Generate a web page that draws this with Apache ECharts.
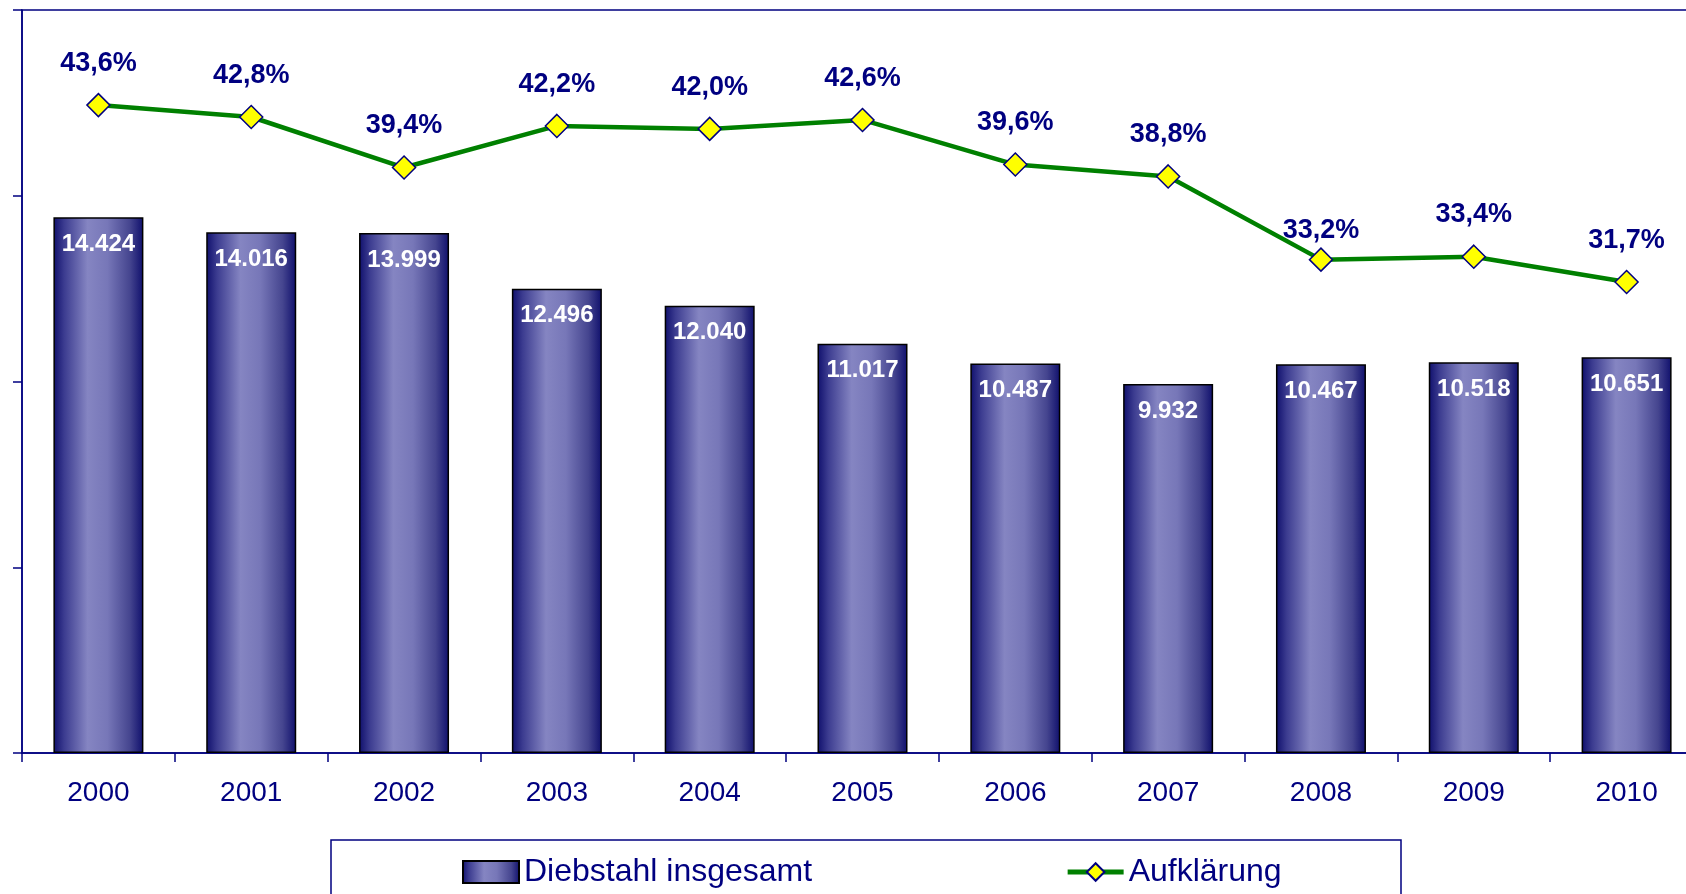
<!DOCTYPE html>
<html>
<head>
<meta charset="utf-8">
<script src="https://cdn.jsdelivr.net/npm/echarts@6/dist/echarts.min.js"></script>
<style>
  html, body { margin: 0; padding: 0; background: #fff; }
  #chart { width: 1686px; height: 894px; }
</style>
</head>
<body>
<div id="chart"></div>
<script>
// data
const years = ["2000", "2001", "2002", "2003", "2004", "2005", "2006", "2007", "2008", "2009", "2010"];
const diebstahl = [14424, 14016, 13999, 12496, 12040, 11017, 10487, 9932, 10467, 10518, 10651];
const aufklaerung = [43.6, 42.8, 39.4, 42.2, 42.0, 42.6, 39.6, 38.8, 33.2, 33.4, 31.7];

const navy = "#000080";
const font = "Liberation Sans, Arial, sans-serif";

// 14424 -> "14.424"
function deNumber(v) {
  return String(v).replace(/\B(?=(\d{3})+(?!\d))/g, ".");
}

const barGradient = new echarts.graphic.LinearGradient(0, 0, 1, 0, [
  { offset: 0, color: "#0f0f6c" },
  { offset: 0.12, color: "#3c3c90" },
  { offset: 0.38, color: "#8585c2" },
  { offset: 0.6, color: "#7777b8" },
  { offset: 0.85, color: "#45458f" },
  { offset: 1, color: "#0f0f6c" },
]);

// 2008 label sits closer to its marker in the original
const lineData = aufklaerung.map((v, i) =>
  i === 8 ? { value: v, label: { distance: 3 } } : v
);

const chart = echarts.init(document.getElementById("chart"));
chart.setOption({
  animation: false,
  textStyle: { fontFamily: font },
  // plot runs past the right edge of the picture
  grid: {
    left: 22,
    top: 10,
    width: 1681,
    height: 743,
    outerBoundsMode: "none",
    show: true,
    borderColor: navy,
    borderWidth: 1.5,
    backgroundColor: "transparent",
  },
  legend: {
    left: 457,
    top: 851,
    itemWidth: 56,
    itemHeight: 22,
    itemGap: 253,
    textStyle: { color: navy, fontSize: 32, fontFamily: font },
    data: [
      { name: "Diebstahl insgesamt", icon: "rect" },
      { name: "Aufklärung", lineStyle: { width: 5 } },
    ],
  },
  graphic: [
    {
      type: "rect",
      shape: { x: 331, y: 840, width: 1070, height: 80 },
      style: { fill: "transparent", stroke: navy, lineWidth: 1.5 },
      z: 0,
    },
  ],
  xAxis: {
    type: "category",
    data: years,
    axisLine: { lineStyle: { color: navy, width: 1.5 } },
    axisTick: { show: true, length: 9, lineStyle: { color: navy, width: 1.5 } },
    axisLabel: { color: navy, fontSize: 28, margin: 26, fontFamily: font },
  },
  yAxis: [
    {
      type: "value",
      min: 0,
      max: 20000,
      interval: 5000,
      axisLine: { show: true, lineStyle: { color: navy, width: 1.5 } },
      axisTick: { show: true, length: 9, lineStyle: { color: navy, width: 1.5 } },
      axisLabel: { show: false },
      splitLine: { show: false },
    },
    {
      type: "value",
      min: 0,
      max: 50,
      show: false,
      splitLine: { show: false },
    },
  ],
  series: [
    {
      name: "Diebstahl insgesamt",
      type: "bar",
      data: diebstahl,
      barWidth: 90,
      itemStyle: { color: barGradient, borderColor: "#000", borderWidth: 1.5 },
      label: {
        show: true,
        position: "insideTop",
        distance: 15,
        color: "#fff",
        fontWeight: "bold",
        fontSize: 24,
        fontFamily: font,
        formatter: (p) => deNumber(p.value),
      },
    },
    {
      name: "Aufklärung",
      type: "line",
      yAxisIndex: 1,
      data: lineData,
      lineStyle: { color: "#008000", width: 4.5 },
      symbol: "diamond",
      symbolSize: 23,
      itemStyle: { color: "#ffff00", borderColor: navy, borderWidth: 1.5 },
      label: {
        show: true,
        position: "top",
        distance: 16,
        color: navy,
        fontWeight: "bold",
        fontSize: 27,
        fontFamily: font,
        formatter: (p) => p.value.toFixed(1).replace(".", ",") + "%",
      },
      z: 3,
    },
  ],
});
</script>
</body>
</html>
